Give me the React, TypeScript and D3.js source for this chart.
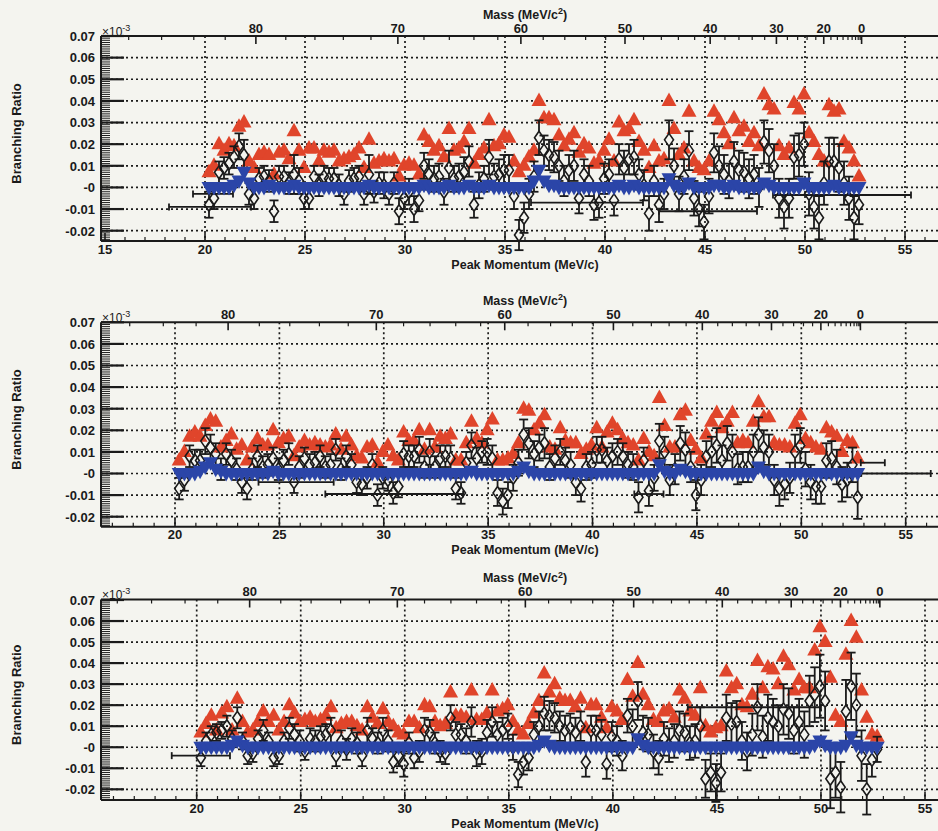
import React from 'react';
import * as d3 from 'd3';

// scan points in peak momentum (MeV/c), shared by all three panels
const momentum = [
  20.2, 20.45, 20.7, 20.95, 21.2, 21.45, 21.7, 21.95, 22.2, 22.45,
  22.7, 22.95, 23.2, 23.45, 23.7, 23.95, 24.2, 24.45, 24.7, 24.95,
  25.2, 25.45, 25.7, 25.95, 26.2, 26.45, 26.7, 26.95, 27.2, 27.45,
  27.7, 27.95, 28.2, 28.45, 28.7, 28.95, 29.2, 29.45, 29.7, 29.95,
  30.2, 30.45, 30.7, 30.95, 31.2, 31.45, 31.7, 31.95, 32.2, 32.45,
  32.7, 32.95, 33.2, 33.45, 33.7, 33.95, 34.2, 34.45, 34.7, 34.95,
  35.2, 35.45, 35.7, 35.95, 36.2, 36.45, 36.7, 36.95, 37.2, 37.45,
  37.7, 37.95, 38.2, 38.45, 38.7, 38.95, 39.2, 39.45, 39.7, 39.95,
  40.2, 40.45, 40.7, 40.95, 41.2, 41.45, 41.7, 41.95, 42.2, 42.45,
  42.7, 42.95, 43.2, 43.45, 43.7, 43.95, 44.2, 44.45, 44.7, 44.95,
  45.2, 45.45, 45.7, 45.95, 46.2, 46.45, 46.7, 46.95, 47.2, 47.45,
  47.7, 47.95, 48.2, 48.45, 48.7, 48.95, 49.2, 49.45, 49.7, 49.95,
  50.2, 50.45, 50.7, 50.95, 51.2, 51.45, 51.7, 51.95, 52.2, 52.45,
  52.7,
];

// all values below are in units of 1e-3 of the axis (axis itself is x10^-3)
// panel 1
const limit1 = [
  7, 10, 20, 17, 20, 19, 28, 30, 12, 9,
  15, 16, 15, 6, 16, 17, 13, 26, 17, 9,
  18, 18, 12, 17, 16, 17, 12, 13, 14, 15,
  18, 9, 22, 11, 12, 13, 12, 13, 5, 10,
  11, 10, 6, 24, 21, 17, 19, 14, 27, 17,
  18, 21, 27, 11, 15, 18, 31, 19, 20, 24,
  23, 12, 7, 10, 14, 17, 40, 32, 32, 31,
  24, 19, 22, 25, 16, 20, 18, 11, 12, 17,
  22, 12, 30, 26, 27, 31, 21, 17, 9, 19,
  12, 13, 40, 27, 15, 18, 35, 12, 9, 8,
  12, 35, 31, 25, 20, 32, 26, 28, 21, 25,
  19, 43, 38, 36, 19, 15, 18, 39, 36, 43,
  25, 21, 15, 12, 38, 35, 36, 21, 18, 12,
  5,
];
const fit1 = [
  -8, -5, 7, 9, 11, 14, 19, 15, -3, -5,
  4, 5, 3, -11, 5, 5, 2, 6, 3, -5,
  -5, 5, 1, 5, 4, 4, 1, -3, 3, 4,
  5, -3, 6, -2, 2, 1, -3, 2, -11, -5,
  -2, -10, -6, 10, 6, 4, 5, -2, 9, 4,
  5, 7, 12, -8, 1, 4, 14, 5, 6, 8,
  8, -4, -22, -14, -3, 5, 23, 17, 15, 14,
  10, 3, 8, 10, -5, 6, 3, -8, -7, 4,
  6, -6, 13, 9, 13, 14, 6, 1, -12, 3,
  -8, -3, 22, 10, -3, 5, 17, -5, -10, -16,
  -4, 16, 10, 6, 3, 12, 8, 7, 4, 6,
  0, 21, 17, 10, -5, -9, -5, 14, 15, 20,
  -3, -9, -14, 2, 12, 12, 9, 2, -5, -14,
  -8,
];
const fitErr1 = [
  6, 5, 5, 5, 5, 5, 6, 7, 5, 5,
  5, 5, 5, 5, 5, 5, 5, 9, 6, 5,
  5, 5, 5, 5, 5, 5, 5, 5, 5, 5,
  5, 5, 9, 5, 5, 6, 5, 5, 6, 5,
  6, 6, 5, 6, 7, 6, 6, 6, 8, 6,
  6, 7, 7, 6, 6, 6, 8, 6, 7, 7,
  7, 6, 7, 7, 7, 7, 8, 7, 7, 7,
  7, 7, 7, 7, 7, 7, 7, 7, 7, 7,
  7, 7, 7, 8, 7, 8, 7, 7, 8, 7,
  8, 7, 9, 8, 8, 8, 9, 8, 8, 8,
  8, 9, 9, 9, 8, 9, 9, 9, 9, 9,
  9, 10, 10, 10, 9, 10, 9, 10, 10, 10,
  10, 10, 10, 10, 11, 11, 11, 10, 10, 10,
  9,
];
const expect1 = [
  0, 0, 0, 0, 0, 1, 3, 7, 2, 0,
  0, 0, 1, 0, 0, 0, 0, 1, 0, 0,
  0, 0, 0, 0, 0, 0, 0, 0, 0, 0,
  0, 0, 1, 0, 0, 0, 0, 0, 0, 0,
  0, 0, 0, 1, 0, 0, 0, 0, 1, 0,
  0, 0, 1, 0, 0, 0, 1, 0, 0, 0,
  0, 0, 0, 0, 0, 3, 8, 3, 1, 1,
  0, 0, 0, 0, 0, 0, 0, 0, 0, 0,
  0, 0, 1, 0, 0, 1, 0, 0, 0, 0,
  0, 0, 4, 1, 0, 0, 2, 0, 0, 0,
  0, 1, 1, 0, 0, 1, 0, 0, 0, 0,
  0, 2, 1, 0, 0, 0, 0, 0, 0, 2,
  0, 0, 0, 0, 0, 1, 0, 0, 0, 0,
  0,
];
// horizontal error bars: [value, from, to]
const hbars1 = [[-9, 18.2, 22.3], [-3, 19.4, 21.4], [-7, 36.3, 41.9], [-11, 42.7, 47.6], [-3.5, 48.4, 55.3]];

// panel 2
const limit2 = [
  6, 10, 17, 19, 17, 22, 25, 24, 12, 15,
  18, 11, 13, 6, 12, 16, 13, 13, 20, 14,
  16, 17, 8, 12, 15, 13, 14, 13, 12, 13,
  18, 11, 17, 13, 8, 7, 12, 13, 5, 10,
  13, 8, 6, 19, 15, 15, 20, 11, 20, 12,
  17, 16, 18, 6, 6, 14, 24, 16, 14, 20,
  25, 6, 6, 7, 9, 14, 30, 29, 20, 23,
  27, 12, 11, 21, 15, 14, 14, 9, 11, 13,
  21, 12, 19, 23, 20, 16, 14, 13, 6, 16,
  10, 8, 35, 22, 12, 12, 27, 29, 15, 11,
  7, 18, 24, 28, 21, 24, 28, 14, 15, 14,
  24, 33, 26, 26, 14, 13, 13, 12, 23, 27,
  16, 14, 12, 11, 21, 19, 17, 10, 15, 14,
  7,
];
const fit2 = [
  -7, -3, 8, 6, 6, 15, 12, 9, 2, 9,
  6, 2, -4, -7, 2, 8, 3, 4, 7, 2,
  6, 9, -4, 3, 7, 4, 5, 8, 3, 4,
  11, 2, 8, 4, -4, -5, -2, 4, -10, -2,
  -3, -9, -6, 9, 8, 8, 11, 3, 10, 3,
  7, 8, 7, -7, -9, 5, 13, 7, 10, 10,
  7, -9, -13, -10, -2, 5, 18, 14, 9, 12,
  14, 3, 7, 10, 6, 4, -4, -7, 3, 4,
  11, 11, 6, 8, 10, 8, 4, 3, -11, 6,
  -8, -2, 15, 10, -3, 2, 14, 11, 3, -10,
  -3, 8, 10, 13, 6, 14, 10, 2, 3, 3,
  10, 18, 12, 10, -3, -7, -5, -2, 10, 13,
  2, -4, -6, -6, 6, 7, 3, -5, -3, 4,
  -11,
];
const fitErr2 = [
  5, 5, 5, 5, 5, 6, 6, 5, 5, 5,
  5, 5, 5, 5, 5, 5, 5, 5, 5, 5,
  5, 5, 5, 5, 5, 5, 5, 5, 5, 5,
  5, 5, 5, 5, 5, 5, 5, 5, 5, 5,
  5, 5, 5, 6, 5, 5, 6, 5, 6, 5,
  6, 5, 6, 5, 5, 5, 6, 5, 5, 6,
  6, 6, 6, 6, 6, 6, 7, 7, 6, 6,
  7, 6, 6, 6, 6, 6, 6, 6, 6, 6,
  6, 6, 6, 6, 6, 6, 6, 6, 7, 6,
  7, 6, 8, 7, 7, 7, 8, 8, 7, 7,
  7, 7, 7, 8, 7, 8, 8, 7, 7, 7,
  8, 8, 8, 8, 7, 8, 7, 7, 8, 8,
  8, 8, 8, 8, 8, 8, 8, 8, 8, 8,
  10,
];
const expect2 = [
  0, 0, 0, 0, 1, 3, 5, 2, 1, 0,
  0, 0, 0, 0, 0, 0, 0, 0, 1, 0,
  0, 0, 0, 0, 0, 0, 0, 0, 0, 0,
  0, 0, 0, 0, 0, 0, 0, 0, 0, 0,
  0, 0, 0, 0, 0, 0, 0, 0, 0, 0,
  0, 0, 0, 0, 0, 0, 1, 0, 0, 0,
  0, 0, 0, 0, 0, 1, 3, 1, 0, 0,
  0, 0, 0, 0, 0, 0, 0, 0, 0, 0,
  0, 0, 0, 0, 0, 0, 0, 0, 0, 0,
  0, 0, 4, 1, 0, 0, 2, 1, 0, 0,
  0, 0, 0, 0, 0, 0, 0, 0, 0, 0,
  0, 3, 1, 0, 0, 0, 0, 0, 0, 0,
  0, 0, 0, 0, 0, 0, 0, 0, 0, 0,
  0,
];
const hbars2 = [[-4, 24, 27.6], [-9.5, 27.2, 33.8], [-9.5, 42, 43.4], [5, 52.85, 54], [0, 52.85, 56.2]];

// panel 3
const limit3 = [
  7, 11, 15, 8, 16, 19, 8, 23, 12, 7,
  8, 12, 17, 12, 15, 8, 12, 20, 16, 12,
  13, 14, 12, 13, 15, 19, 9, 11, 12, 12,
  10, 8, 19, 14, 11, 18, 12, 10, 7, 6,
  12, 12, 9, 20, 19, 12, 10, 11, 26, 15,
  15, 14, 27, 13, 13, 16, 27, 17, 18, 20,
  12, 8, 6, 11, 16, 22, 35, 26, 30, 23,
  22, 22, 19, 23, 9, 20, 20, 14, 9, 19,
  17, 13, 32, 24, 40, 25, 20, 13, 12, 17,
  18, 14, 27, 23, 17, 15, 28, 10, 7, 9,
  10, 36, 28, 30, 20, 19, 25, 41, 28, 38,
  37, 30, 43, 39, 27, 32, 28, 28, 46, 57,
  50, 33, 15, 12, 44, 60, 52, 27, 14, 6,
  5,
];
const fit3 = [
  -5, 3, 6, 7, 8, 10, 4, 14, 3, -4,
  -3, 4, 8, 3, -5, -4, 3, 9, 6, 3,
  -2, 4, 3, 5, 6, 8, -4, 3, -1, 4,
  2, -4, 8, 4, 2, 8, 3, -7, -4, -8,
  2, -5, -2, 8, 7, 2, -2, -3, 14, 6,
  6, 3, 12, -3, -2, 7, 12, 6, 8, 10,
  0, -13, -7, -5, 6, 10, 16, 15, 14, 10,
  8, 9, 7, 10, -7, 8, 8, 6, -8, 5,
  3, -4, 15, 10, 22, 7, 6, -2, -5, 4,
  1, 3, 8, 7, 2, 3, 10, -15, -12, -17,
  -12, 14, 11, 12, 3, -2, 6, 19, 5, 14,
  12, 10, 18, 16, 8, 12, 6, 22, 25, 29,
  22, -15, -12, -19, 17, 29, 20, -4, -20, -6,
  -1,
];
const fitErr3 = [
  4, 4, 4, 4, 4, 5, 4, 5, 4, 4,
  4, 4, 5, 4, 4, 4, 4, 5, 5, 5,
  4, 5, 5, 5, 5, 6, 5, 5, 5, 5,
  5, 5, 6, 5, 5, 6, 5, 5, 5, 6,
  5, 5, 5, 6, 6, 5, 5, 5, 6, 6,
  5, 6, 7, 6, 6, 6, 7, 6, 6, 6,
  6, 6, 6, 6, 6, 7, 8, 7, 7, 7,
  7, 7, 7, 7, 7, 7, 7, 7, 7, 7,
  7, 7, 8, 8, 9, 8, 8, 8, 8, 8,
  8, 8, 9, 9, 8, 8, 9, 9, 9, 9,
  9, 11, 10, 10, 9, 9, 10, 11, 10, 11,
  11, 10, 12, 12, 11, 11, 11, 12, 13, 15,
  14, 14, 12, 12, 15, 16, 15, 12, 12, 8,
  6,
];
const expect3 = [
  0, 0, 0, 0, 0, 0, 1, 3, 1, 0,
  0, 0, 0, 0, 0, 0, 0, 0, 0, 0,
  0, 0, 0, 0, 0, 0, 0, 0, 0, 0,
  0, 0, 0, 0, 0, 0, 0, 0, 0, 0,
  0, 0, 0, 0, 0, 0, 0, 0, 0, 0,
  0, 0, 0, 0, 0, 0, 0, 0, 0, 0,
  0, 0, 0, 0, 0, 1, 3, 1, 0, 0,
  0, 0, 0, 0, 0, 0, 0, 0, 0, 0,
  0, 0, 0, 0, 4, 1, 0, 0, 0, 0,
  0, 0, 0, 0, 0, 0, 0, 0, 0, 0,
  0, 0, 0, 0, 0, 0, 0, 0, 0, 0,
  0, 0, 0, 0, 0, 0, 0, 0, 1, 3,
  1, 0, 0, 0, 1, 5, 1, 0, 0, 0,
  0,
];
const hbars3 = [[-4, 18.8, 21.6], [19, 43.6, 50]];

// axis ticks
const xTickValues = [15, 20, 25, 30, 35, 40, 45, 50, 55];
const yTickValues = [0.07, 0.06, 0.05, 0.04, 0.03, 0.02, 0.01, 0, -0.01, -0.02];
const yTickLabels = ['0.07', '0.06', '0.05', '0.04', '0.03', '0.02', '0.01', '-0', '-0.01', '-0.02'];
const massTickValues = [80, 70, 60, 50, 40, 30, 20, 0];

const MU = 105.66; // muon mass, two body decay mu -> e X
const massToP = (m: number) => (MU * MU - m * m) / (2 * MU);

const RED = '#e0452b';
const BLUE = '#2b45a8';
const INK = '#1a1a1a';
const FONT = '"Liberation Sans", Arial, Helvetica, sans-serif';

const panels = [
  { top: 36, bottom: 241, y07: 36, y02: 230.7, x20: 205, x55: 905, limit: limit1, fit: fit1, err: fitErr1, expect: expect1, hbars: hbars1 },
  { top: 322.3, bottom: 526.7, y07: 322.3, y02: 516.7, x20: 175, x55: 905.7, limit: limit2, fit: fit2, err: fitErr2, expect: expect2, hbars: hbars2 },
  { top: 599.5, bottom: 800, y07: 600, y02: 789.3, x20: 196.7, x55: 925, limit: limit3, fit: fit3, err: fitErr3, expect: expect3, hbars: hbars3 },
];

const LEFT = 101;
const RIGHT = 938;

const upTri = 'M0,-8.5L7.5,5L-7.5,5Z';
const downTri = 'M0,8L7.5,-5.5L-7.5,-5.5Z';
const diamondPath = 'M0,-6.5L4.5,0L0,6.5L-4.5,0Z';

function Panel({ p }: { p: typeof panels[number] }) {
  const x = d3.scaleLinear().domain([20, 55]).range([p.x20, p.x55]);
  const y = d3.scaleLinear().domain([-0.02, 0.07]).range([p.y02, p.y07]);
  const pMin = x.invert(LEFT);
  const pMax = x.invert(RIGHT);
  const vMin = y.invert(p.bottom);
  const u = (v: number) => y(v / 1000);

  const minorX = d3.range(Math.ceil(pMin), Math.floor(pMax) + 1).filter(v => v % 5 !== 0);
  const minorY = d3.range(Math.ceil(vMin * 1000), 71).map(k => k / 1000);
  const minorMass = d3.range(0, 92, 2).filter(m => !massTickValues.includes(m) && massToP(m) >= pMin);
  const cx = 525;

  return (
    <g>
      {/* grid */}
      {xTickValues.filter(v => v > pMin + 0.3).map(v => (
        <line key={'gx' + v} x1={x(v)} x2={x(v)} y1={p.top} y2={p.bottom}
          stroke={INK} strokeWidth={1.7} strokeDasharray="2,3" />
      ))}
      {yTickValues.slice(1).map(v => (
        <line key={'gy' + v} x1={LEFT} x2={RIGHT} y1={y(v)} y2={y(v)}
          stroke={INK} strokeWidth={1.7} strokeDasharray="2,3" />
      ))}

      {/* upper limits */}
      {momentum.map((m, i) => (
        <path key={'r' + i} d={upTri} transform={`translate(${x(m)},${u(p.limit[i])})`} fill={RED} />
      ))}

      {/* horizontal error bars */}
      {p.hbars.map(([v, a, b], i) => (
        <g key={'h' + i} stroke={INK} strokeWidth={1.8}>
          <line x1={x(a)} x2={x(b)} y1={u(v)} y2={u(v)} />
          <line x1={x(a)} x2={x(a)} y1={u(v) - 3.5} y2={u(v) + 3.5} />
          <line x1={x(b)} x2={x(b)} y1={u(v) - 3.5} y2={u(v) + 3.5} />
        </g>
      ))}

      {/* fitted values with errors */}
      {momentum.map((m, i) => {
        const px = x(m);
        const hi = u(p.fit[i] + p.err[i]);
        const lo = u(p.fit[i] - p.err[i]);
        const c = u(p.fit[i]);
        return (
          <g key={'d' + i} stroke={INK} strokeWidth={1.8} fill="none">
            <line x1={px} x2={px} y1={hi} y2={c - 6.5} />
            <line x1={px} x2={px} y1={c + 6.5} y2={lo} />
            <line x1={px - 4.5} x2={px + 4.5} y1={hi} y2={hi} />
            <line x1={px - 4.5} x2={px + 4.5} y1={lo} y2={lo} />
            <path d={diamondPath} transform={`translate(${px},${c})`} strokeWidth={1.6} />
          </g>
        );
      })}

      {/* expected */}
      {momentum.map((m, i) => (
        <path key={'b' + i} d={downTri} transform={`translate(${x(m)},${u(p.expect[i])})`} fill={BLUE} />
      ))}

      {/* left axis */}
      <line x1={LEFT} x2={LEFT} y1={p.top} y2={p.bottom} stroke={INK} strokeWidth={2} />
      {minorY.map(v => (
        <line key={'my' + v} x1={LEFT} x2={LEFT + 9} y1={y(v)} y2={y(v)} stroke={INK} strokeWidth={1} />
      ))}
      {yTickValues.map((v, i) => (
        <g key={'ty' + v}>
          <line x1={LEFT} x2={LEFT + 23} y1={y(v)} y2={y(v)} stroke={INK} strokeWidth={2.2} />
          <text x={95} y={y(v) + 4.8} textAnchor="end" fontSize={13} fontWeight="bold" fill={INK}>{yTickLabels[i]}</text>
        </g>
      ))}
      <text x={102} y={p.top - 0.5} fontSize={12} fill={INK}>×10<tspan dy={-5} fontSize={9}>-3</tspan></text>
      <text transform={`translate(21,${(p.top + p.bottom) / 2 - 5}) rotate(-90)`} textAnchor="middle"
        fontSize={13} fontWeight="bold" fill={INK}>Branching Ratio</text>

      {/* bottom axis */}
      <line x1={LEFT} x2={RIGHT} y1={p.bottom} y2={p.bottom} stroke={INK} strokeWidth={2} />
      {minorX.map(v => (
        <line key={'mx' + v} x1={x(v)} x2={x(v)} y1={p.bottom} y2={p.bottom - 4} stroke={INK} strokeWidth={1.2} />
      ))}
      {xTickValues.filter(v => v >= pMin).map(v => (
        <g key={'tx' + v}>
          <line x1={x(v)} x2={x(v)} y1={p.bottom} y2={p.bottom - 8} stroke={INK} strokeWidth={1.6} />
          <text x={x(v)} y={p.bottom + 12.5} textAnchor="middle" fontSize={13} fontWeight="bold" fill={INK}>{v}</text>
        </g>
      ))}
      <text x={cx} y={p.bottom + 27.5} textAnchor="middle" fontSize={12.5} fontWeight="bold" fill={INK}>Peak Momentum (MeV/c)</text>

      {/* top axis: mass */}
      <line x1={LEFT} x2={RIGHT} y1={p.top} y2={p.top} stroke={INK} strokeWidth={2} />
      {minorMass.map(m => (
        <line key={'mm' + m} x1={x(massToP(m))} x2={x(massToP(m))} y1={p.top} y2={p.top + 4} stroke={INK} strokeWidth={1.2} />
      ))}
      {massTickValues.map(m => (
        <g key={'tm' + m}>
          <line x1={x(massToP(m))} x2={x(massToP(m))} y1={p.top} y2={p.top + 8} stroke={INK} strokeWidth={1.6} />
          <text x={x(massToP(m))} y={p.top - 3.5} textAnchor="middle" fontSize={13} fontWeight="bold" fill={INK}>{m}</text>
        </g>
      ))}
      <text x={cx} y={p.top - 17.5} textAnchor="middle" fontSize={12.5} fontWeight="bold" fill={INK}>
        Mass (MeV/c<tspan dy={-4.5} fontSize={9}>2</tspan><tspan dy={4.5}>)</tspan>
      </text>
    </g>
  );
}

export default function App() {
  return (
    <svg width={938} height={831} style={{ position: 'absolute', left: 0, top: 0 }} fontFamily={FONT}>
      <rect width={938} height={831} fill="#f4f4ef" />
      {panels.map((p, i) => <Panel key={i} p={p} />)}
    </svg>
  );
}
